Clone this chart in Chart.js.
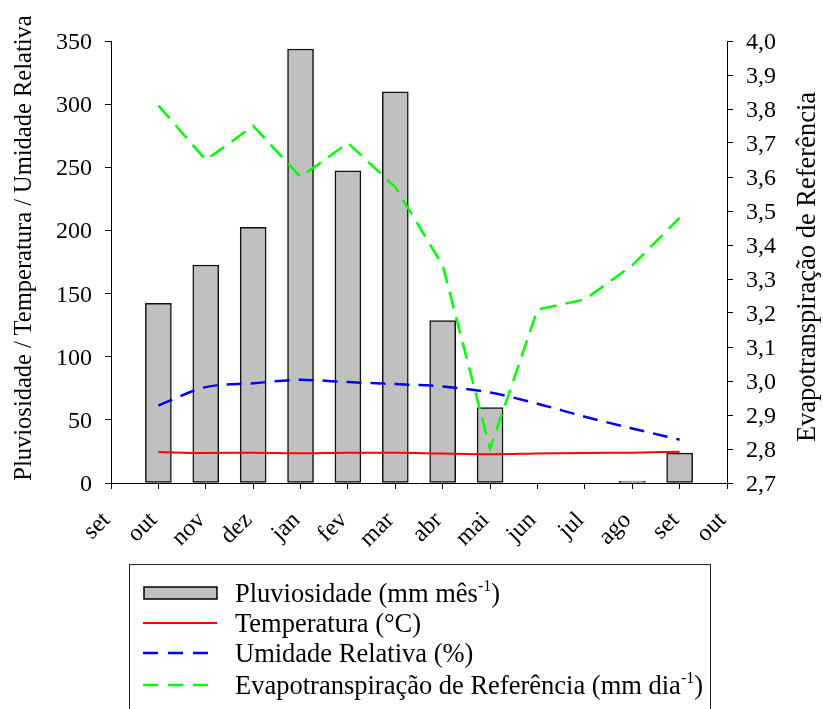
<!DOCTYPE html>
<html>
<head>
<meta charset="utf-8">
<script src="https://cdn.jsdelivr.net/npm/chart.js@4.4.0/dist/chart.umd.min.js"></script>
<style>
html,body{margin:0;padding:0;background:#fff;}
#wrap{position:relative;width:823px;height:709px;overflow:hidden;background:#fff;font-family:'Liberation Serif','Times New Roman',serif;color:#000;}
#c{position:absolute;left:0;top:0;}
#labels{position:absolute;left:0;top:0;width:823px;height:709px;}
#labels div{position:absolute;white-space:nowrap;}
.tick{font-size:24px;line-height:28px;height:28px;}
#legend{position:absolute;left:129px;top:564px;width:582px;height:180px;border:1px solid #222;box-sizing:border-box;font-size:26.5px;background:#fff;}
.row{position:absolute;left:0;height:30px;width:100%;}
.row svg{position:absolute;left:13px;top:0;}
.row .t{position:absolute;left:105px;top:0;white-space:nowrap;line-height:30px;}
.sup{font-size:16px;position:relative;top:-11px;}
</style>
</head>
<body>
<div id="wrap">
<canvas id="c" width="823" height="709"></canvas>
<div id="labels"></div>
<div id="legend">
  <div class="row" style="top:13px"><svg width="80" height="30"><rect x="1" y="9" width="73" height="12" fill="#c0c0c0" stroke="#000" stroke-width="1.5"/></svg><span class="t">Pluviosidade (mm mês<span class="sup">-1</span>)</span></div>
  <div class="row" style="top:43px"><svg width="80" height="30"><line x1="0" y1="15" x2="74" y2="15" stroke="#ff0000" stroke-width="2"/></svg><span class="t">Temperatura (°C)</span></div>
  <div class="row" style="top:73px"><svg width="80" height="30"><line x1="0" y1="15" x2="74" y2="15" stroke="#0000ff" stroke-width="2.5" stroke-dasharray="15 10"/></svg><span class="t">Umidade Relativa (%)</span></div>
  <div class="row" style="top:105px"><svg width="80" height="30"><line x1="0" y1="15" x2="74" y2="15" stroke="#00ff00" stroke-width="2.5" stroke-dasharray="15 10"/></svg><span class="t">Evapotranspiração de Referência (mm dia<span class="sup">-1</span>)</span></div>
</div>
</div>
<script>
// ---- data ----
const xTickLabels = ['set','out','nov','dez','jan','fev','mar','abr','mai','jun','jul','ago','set','out'];
const months = ['out','nov','dez','jan','fev','mar','abr','mai','jun','jul','ago','set'];
const pluviosidade = [142.3, 172.6, 202.4, 343.7, 247.2, 309.7, 128.6, 59.8, null, null, 1.5, 23.7];
const temperatura  = [24.5, 23.8, 24.0, 23.5, 24.0, 24.0, 23.3, 22.8, 23.3, 23.8, 24.0, 24.8];
const umidade      = [61.4, 75.9, 79.0, 81.7, 79.9, 78.3, 76.4, 71.6, 62.8, 52.5, 43.2, 34.3];
const evapo        = [3.81, 3.65, 3.75, 3.60, 3.70, 3.57, 3.34, 2.80, 3.21, 3.24, 3.34, 3.48];
const leftTicks = [0, 50, 100, 150, 200, 250, 300, 350];
const rightTicks = [2.7, 2.8, 2.9, 3.0, 3.1, 3.2, 3.3, 3.4, 3.5, 3.6, 3.7, 3.8, 3.9, 4.0];
const leftTitle = 'Pluviosidade / Temperatura / Umidade Relativa';
const rightTitle = 'Evapotranspiração de Referência';

// month i of the series sits at x-position = its index in xTickLabels (out = 1)
const pts = arr => arr.map((v, i) => ({x: i + 1, y: v}));
const fmtRight = v => v.toFixed(1).replace('.', ',');

const TICK_LEN = 6;
const tickGrid = {display: true, drawOnChartArea: false, drawTicks: true, tickLength: TICK_LEN, color: '#000', lineWidth: 1};
const border = {display: true, color: '#000', width: 1};

const chart = new Chart(document.getElementById('c'), {
  type: 'bar',
  data: {
    datasets: [
      {type: 'line', label: 'Temperatura', data: pts(temperatura), yAxisID: 'y', borderColor: '#ff0000', borderWidth: 2, pointRadius: 0, tension: 0.4, cubicInterpolationMode: 'monotone', order: 0},
      {type: 'line', label: 'Umidade Relativa', data: pts(umidade), yAxisID: 'y', borderColor: '#0000ff', borderWidth: 2.5, borderDash: [15, 9], pointRadius: 0, tension: 0.4, cubicInterpolationMode: 'monotone', order: 0},
      {type: 'line', label: 'Evapotranspiração', data: pts(evapo), yAxisID: 'y1', borderColor: '#00ff00', borderWidth: 2.5, borderDash: [17, 9], pointRadius: 0, tension: 0, order: 0},
      {type: 'bar', label: 'Pluviosidade', data: pts(pluviosidade), yAxisID: 'y', backgroundColor: '#c0c0c0', borderColor: '#111', borderWidth: 1.5, borderSkipped: false, barThickness: 26, order: 10}
    ]
  },
  options: {
    responsive: false,
    animation: false,
    devicePixelRatio: 1,
    layout: {padding: {top: 41, left: 0, right: 0, bottom: 0}},
    plugins: {legend: {display: false}, tooltip: {enabled: false}},
    scales: {
      x: {
        type: 'linear', min: 0, max: xTickLabels.length - 1, offset: false,
        grid: Object.assign({}, tickGrid, {offset: false}), border: border,
        afterBuildTicks: s => { s.ticks = xTickLabels.map((t, i) => ({value: i})); },
        ticks: {display: false, autoSkip: false},
        afterFit: s => { s.height = 226; }
      },
      y: {
        type: 'linear', position: 'left', min: leftTicks[0], max: leftTicks[leftTicks.length - 1],
        grid: tickGrid, border: border,
        afterBuildTicks: s => { s.ticks = leftTicks.map(v => ({value: v})); },
        ticks: {display: false},
        afterFit: s => { s.width = 111; }
      },
      y1: {
        type: 'linear', position: 'right', min: rightTicks[0], max: rightTicks[rightTicks.length - 1],
        grid: tickGrid, border: border,
        afterBuildTicks: s => { s.ticks = rightTicks.map(v => ({value: v})); },
        ticks: {display: false},
        afterFit: s => { s.width = 96; }
      }
    }
  }
});

// ---- text labels, placed with the chart's own scales ----
const box = document.getElementById('labels');
function addDiv(text, css, cls) {
  const d = document.createElement('div');
  if (cls) d.className = cls;
  d.textContent = text;
  Object.assign(d.style, css);
  box.appendChild(d);
  return d;
}
const sx = chart.scales.x, sy = chart.scales.y, sy1 = chart.scales.y1;
const LH = 28, BASE = 22.1; // line height and baseline offset for 24px text

// left axis tick labels (right aligned)
leftTicks.forEach(v => {
  const py = sy.getPixelForValue(v);
  addDiv(String(v), {left: (sy.right - TICK_LEN - 13 - 100) + 'px', width: '100px', textAlign: 'right', top: (py - LH / 2) + 'px'}, 'tick');
});
// right axis tick labels
rightTicks.forEach(v => {
  const py = sy1.getPixelForValue(v);
  addDiv(fmtRight(v), {left: (sy1.left + TICK_LEN + 13) + 'px', top: (py - LH / 2) + 'px'}, 'tick');
});
// x tick labels: rotated 45 degrees, baseline ends at the tick
xTickLabels.forEach((t, i) => {
  const px = sx.getPixelForValue(i);
  const baseY = sx.top + 38;
  addDiv(t, {left: (px - 100) + 'px', width: '100px', textAlign: 'right', top: (baseY - BASE) + 'px',
    transformOrigin: '100% ' + BASE + 'px', transform: 'rotate(-45deg)'}, 'tick');
});
// axis titles
function vTitle(text, size, baseX, centerY) {
  const lh = Math.round(size * 1.15);
  const base = (lh - 1.107 * size) / 2 + 0.891 * size;
  const cx = baseX - (base - lh / 2);
  const w = 700;
  addDiv(text, {fontSize: size + 'px', lineHeight: lh + 'px', height: lh + 'px', width: w + 'px', textAlign: 'center',
    left: (cx - w / 2) + 'px', top: (centerY - lh / 2) + 'px', transform: 'rotate(-90deg)', transformOrigin: '50% 50%'});
}
vTitle(leftTitle, 24.5, 31.7, 248);
vTitle(rightTitle, 26.5, 814.5, 266.5);
</script>
</body>
</html>
